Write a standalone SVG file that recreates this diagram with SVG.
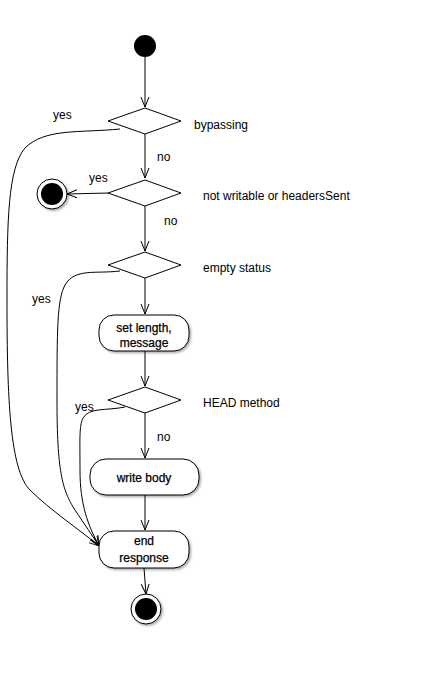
<svg xmlns="http://www.w3.org/2000/svg" width="427" height="696" viewBox="0 0 427 696">
<style>
.ln{fill:none;stroke:#000;stroke-width:1}
.dm{fill:#fff;stroke:#000;stroke-width:1}
.bx{fill:#fff;stroke:#000;stroke-width:1;filter:url(#sh)}
.lb{font-family:"Liberation Sans",Arial,sans-serif;font-size:12px;fill:#000}
.bt{font-family:"Liberation Sans",Arial,sans-serif;font-size:12px;fill:#000;stroke:#000;stroke-width:0.25;text-anchor:middle}
</style>
<defs>
<marker id="ar" viewBox="0 0 10 10" refX="10" refY="5" markerWidth="10" markerHeight="10" markerUnits="userSpaceOnUse" orient="auto">
<path d="M0,1 L10,5 L0,9" fill="none" stroke="#000" stroke-width="1"/>
</marker>
<filter id="sh" x="-20%" y="-20%" width="150%" height="150%">
<feDropShadow dx="1.5" dy="1.5" stdDeviation="1.2" flood-color="#000" flood-opacity="0.35"/>
</filter>
</defs>
<rect width="427" height="696" fill="#fff"/>
<g id="connectors">
<path class="ln" d="M145,57 L145,107" marker-end="url(#ar)"/>
<path class="ln" d="M145,134 L145,178" marker-end="url(#ar)"/>
<path class="ln" d="M108,193 L67,194" marker-end="url(#ar)"/>
<path class="ln" d="M145,206 L145,251" marker-end="url(#ar)"/>
<path class="ln" d="M145,278 L145,314" marker-end="url(#ar)"/>
<path class="ln" d="M145,351 L145,386" marker-end="url(#ar)"/>
<path class="ln" d="M145,413 L145,458" marker-end="url(#ar)"/>
<path class="ln" d="M145,495 L145,530" marker-end="url(#ar)"/>
<path class="ln" d="M144,568 L146,594" marker-end="url(#ar)"/>
<path class="ln" d="M120,129 C80,133 45,128 25,148 C8,168 7,220 7,300 C7,400 10,470 30,490 C50,510 80,530 99,546" marker-end="url(#ar)"/>
<path class="ln" d="M120,271 C95,274 75,268 65,285 C57,300 57,330 57,400 C57,470 62,490 75,510 C85,525 92,535 99,546" marker-end="url(#ar)"/>
<path class="ln" d="M125,407 C105,411 90,407 83,418 C79,426 80,440 80,470 C80,505 88,525 99,546" marker-end="url(#ar)"/>
</g>
<g id="start"><circle cx="145" cy="46" r="11" fill="#000"/></g>
<g id="d1"><polygon class="dm" points="145,108 181,121 145,134 108,121"/></g>
<g id="d2"><polygon class="dm" points="145,180 181,193 145,206 108,193"/></g>
<g id="end1"><circle cx="52" cy="194" r="15" fill="#fff" stroke="#000" stroke-width="1" filter="url(#sh)"/><circle cx="52" cy="194" r="11" fill="#000"/></g>
<g id="d3"><polygon class="dm" points="145,252 181,265 145,278 108,265"/></g>
<g id="setlen"><rect class="bx" x="99" y="315" width="90" height="36" rx="15"/><text class="bt" x="144" y="332">set length,</text><text class="bt" x="144" y="347">message</text></g>
<g id="d4"><polygon class="dm" points="145,387 181,400 145,413 108,400"/></g>
<g id="write"><rect class="bx" x="90" y="459" width="109" height="36" rx="16"/><text class="bt" x="144" y="482">write body</text></g>
<g id="endresp"><rect class="bx" x="99" y="531" width="90" height="37" rx="15"/><text class="bt" x="144" y="545">end</text><text class="bt" x="144" y="562">response</text></g>
<g id="end2"><circle cx="146" cy="609" r="15" fill="#fff" stroke="#000" stroke-width="1" filter="url(#sh)"/><circle cx="146" cy="609" r="11" fill="#000"/></g>
<g id="labels">
<text class="lb" x="194" y="129">bypassing</text>
<text class="lb" x="203" y="200">not writable or headersSent</text>
<text class="lb" x="203" y="272">empty status</text>
<text class="lb" x="203" y="407">HEAD method</text>
<text class="lb" x="53" y="119">yes</text>
<text class="lb" x="157" y="161">no</text>
<text class="lb" x="89" y="182">yes</text>
<text class="lb" x="164" y="225">no</text>
<text class="lb" x="32" y="303">yes</text>
<text class="lb" x="75" y="411">yes</text>
<text class="lb" x="157" y="441">no</text>
</g>
</svg>
